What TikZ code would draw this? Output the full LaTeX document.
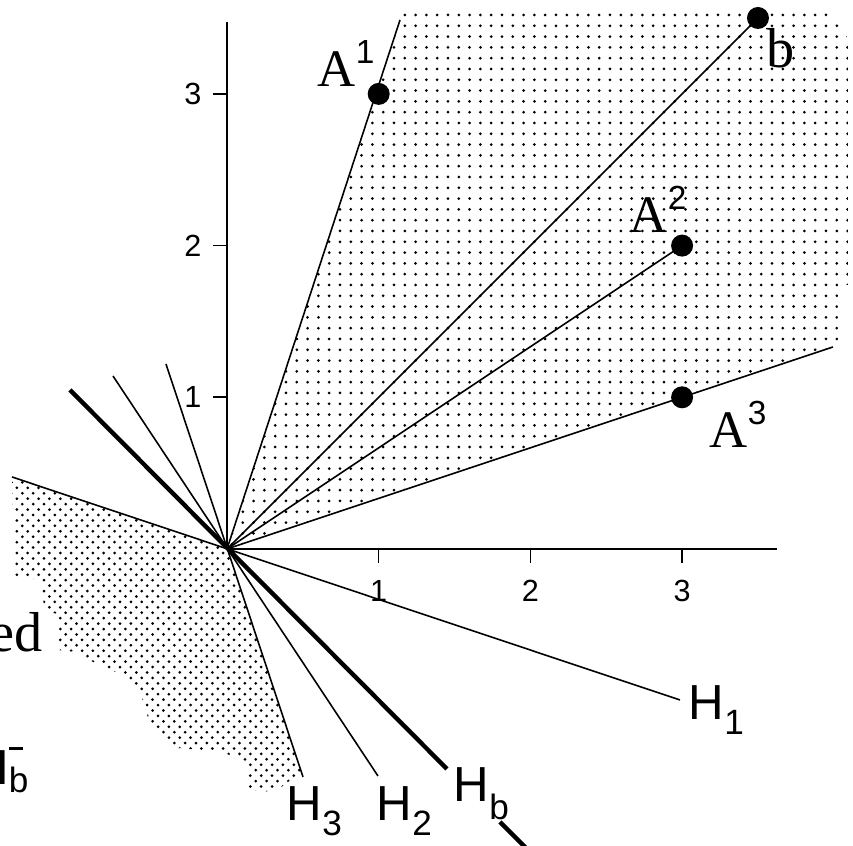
\documentclass[tikz,border=0pt]{standalone}
\usepackage{fontspec}
\setmainfont{Liberation Serif}
\newfontfamily\sansf{Liberation Sans}
\newcommand\Alab[1]{{\fontsize{15}{15}\selectfont A}\raisebox{6.8pt}{\sansf\fontsize{9.5}{9.5}\selectfont #1}}
\newcommand\Hlab[2][4.2pt]{{\sansf\fontsize{14}{14}\selectfont H}\raisebox{-#1}{\sansf\fontsize{10}{10}\selectfont #2}}
\begin{document}
\begin{tikzpicture}[x=0.01cm,y=-0.01cm,
  thinline/.style={line width=0.45pt},
  hbline/.style={line width=1.25pt},
  ticklab/.style={inner sep=0pt,font=\sansf\fontsize{8.7}{9}\selectfont},
  lab/.style={inner sep=0pt,anchor=base west},
  dotfill/.style={fill=black}]
\path[use as bounding box] (0,0) rectangle (853,846);
\clip (0,0) rectangle (853,846);
% key points
\coordinate (O) at (227,549);
\coordinate (A1) at (378.7,93.9);
\coordinate (A2) at (682.1,245.6);
\coordinate (A3) at (682.1,397.3);
\coordinate (b) at (758,18);
\coordinate (A1end) at (400,20);
\coordinate (A3end) at (833,347);
% upper dotted cone
\begin{scope}
\clip (O) -- (403,10) -- (808,10) .. controls (840,10) and (848,22) .. (848,55) -- (848,285) -- (838,285) -- (838,345.3) -- cycle;
\foreach \i in {0,...,58} {\foreach \j in {0,...,49} {\fill[dotfill] (221.2+10.8*\i, 15+10.8*\j) circle[radius=1.5];}}
\end{scope}
% lower-left dotted region
\begin{scope}
\clip (O) -- (12,477) -- (14,577) -- (42,580) -- (44,610) -- (57,614) -- (58,650) -- (76,652) -- (100,666) -- (126,676) -- (142,698) -- (150,724) -- (178,748) -- (224,752) -- (246,765) -- (248,790) -- (275,792) -- (301,772) -- cycle;
\foreach \j in {0,...,60} {\pgfmathsetmacro\off{mod(\j,2)*5.43}\foreach \i in {0,...,27} {\fill[dotfill] (6+\off+10.86*\i, 477+5.43*\j) circle[radius=1.5];}}
\end{scope}
% axes
\coordinate (ytop) at (227,22);
\coordinate (xend) at (777,549);
\draw[thinline] (O) -- (ytop);
\draw[thinline] (O) -- (xend);
\foreach \k/\xx in {1/378.7,2/530.4,3/682.1} {
  \draw[thinline] (\xx,549) -- (\xx,563);
  \node[ticklab] (xl\k) at (\xx,591) {\k};
}
\foreach \k/\yy in {1/397.3,2/245.6,3/93.9} {
  \draw[thinline] (227,\yy) -- (213,\yy);
  \node[ticklab,anchor=east] (yl\k) at (202,\yy) {\k};
}
% rays
\draw[thinline] (O) -- (A1end);
\draw[thinline] (O) -- (b);
\draw[thinline] (O) -- (A2);
\draw[thinline] (O) -- (A3end);
% hyperplanes
\coordinate (H1l) at (12,477);
\coordinate (H1r) at (680,700);
\coordinate (H2t) at (113,376);
\coordinate (H2b) at (378,776);
\coordinate (H3t) at (166,364);
\coordinate (H3b) at (303,777);
\coordinate (Hbt) at (70,390);
\coordinate (Hbb) at (447,769);
\coordinate (Hbc) at (500,822);
\coordinate (Hbd) at (535,857);
\draw[thinline] (H1l) -- (H1r);
\draw[thinline] (H2t) -- (H2b);
\draw[thinline] (H3t) -- (H3b);
\draw[hbline] (Hbt) -- (Hbb);
\draw[hbline] (Hbc) -- (Hbd);
% points
\fill (A1) circle[radius=11];
\fill (A2) circle[radius=11];
\fill (A3) circle[radius=11];
\fill (b) circle[radius=11];
% labels
\node[lab] (lA1) at (317,87) {\Alab{1}};
\node[lab] (lA2) at (629,233) {\Alab{2}};
\node[lab] (lA3) at (709,448) {\Alab{3}};
\node[lab] (lb) at (766,68) {\fontsize{16}{16}\selectfont b};
\node[lab] (lH1) at (688,720) {\Hlab{1}};
\node[lab] (lH3) at (286,821) {\Hlab{3}};
\node[lab] (lH2) at (376,821) {\Hlab{2}};
\node[lab] (lHb) at (453,802) {\Hlab[5pt]{b}};
\node[inner sep=0pt,anchor=base east] (led) at (43,652) {\fontsize{16}{16}\selectfont ed};
\node[lab] (lHbm) at (-27.5,785) {{\sansf\fontsize{14}{14}\selectfont H}\rlap{\raisebox{10pt}{\rule{4pt}{0.9pt}}}\raisebox{-2pt}{\sansf\fontsize{10}{10}\selectfont b}};
\end{tikzpicture}
\end{document}
